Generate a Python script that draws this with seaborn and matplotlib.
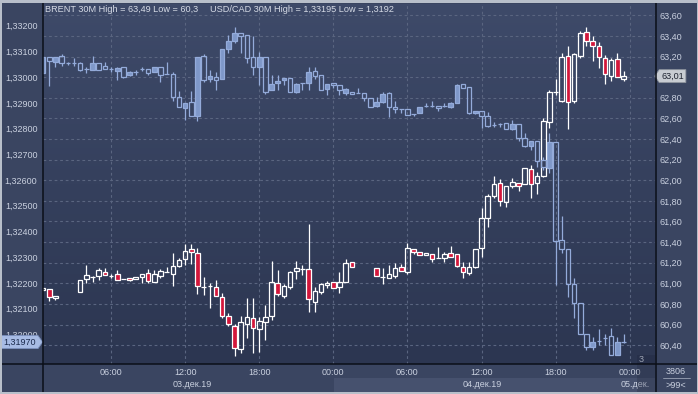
import numpy as np
import matplotlib
matplotlib.use("Agg")
import matplotlib.pyplot as plt
from matplotlib.ticker import FuncFormatter, FixedLocator
from matplotlib.patches import Rectangle
from matplotlib.lines import Line2D
from matplotlib.path import Path
from matplotlib.colors import LinearSegmentedColormap
import seaborn as sns

# ---------------- data (30-minute bars, x = half-hour index from 03.12 00:00) ----------------
usd_idx = list(range(1, 96))
usd_open = [1.33017, 1.33077, 1.33060, 1.33082, 1.33054, 1.33054, 1.33054, 1.33032, 1.33029, 1.33054,
            1.33043, 1.33030, 1.33025, 1.33038, 1.33007, 1.33021, 1.33030, 1.33030, 1.33021, 1.33038,
            1.33012, 1.33012, 1.32924, 1.32881, 1.32905, 1.32850, 1.33082, 1.32994, 1.33002, 1.32994,
            1.33111, 1.33142, 1.33173, 1.33164, 1.33077, 1.33041, 1.33077, 1.32951, 1.32976, 1.32988,
            1.32995, 1.32943, 1.32977, 1.32976, 1.33024, 1.33008, 1.32955, 1.32976, 1.32968, 1.32940,
            1.32943, 1.32937, 1.32937, 1.32918, 1.32889, 1.32905, 1.32937, 1.32883, 1.32875, 1.32875,
            1.32856, 1.32862, 1.32889, 1.32889, 1.32889, 1.32889, 1.32885, 1.32901, 1.32972, 1.32963,
            1.32862, 1.32868, 1.32850, 1.32814, 1.32817, 1.32820, 1.32800, 1.32817, 1.32762, 1.32733,
            1.32752, 1.32678, 1.32648, 1.32747, 1.32367, 1.32331, 1.32195, 1.32121, 1.32001, 1.31952,
            1.31975, 1.31987, 1.31994, 1.31920, 1.31970]
usd_high = [1.33077, 1.33077, 1.33077, 1.33090, 1.33060, 1.33073, 1.33058, 1.33041, 1.33082, 1.33054,
            1.33058, 1.33041, 1.33041, 1.33038, 1.33025, 1.33028, 1.33041, 1.33030, 1.33038, 1.33038,
            1.33060, 1.33020, 1.32947, 1.32898, 1.32947, 1.33077, 1.33090, 1.33028, 1.33020, 1.33108,
            1.33165, 1.33195, 1.33173, 1.33164, 1.33160, 1.33097, 1.33077, 1.33008, 1.33008, 1.32995,
            1.32995, 1.32976, 1.32977, 1.33041, 1.33038, 1.33008, 1.32972, 1.32976, 1.32968, 1.32957,
            1.32943, 1.32958, 1.32937, 1.32918, 1.32922, 1.32941, 1.32941, 1.32906, 1.32875, 1.32875,
            1.32856, 1.32883, 1.32901, 1.32906, 1.32889, 1.32901, 1.32902, 1.32973, 1.32972, 1.32963,
            1.32868, 1.32868, 1.32863, 1.32827, 1.32820, 1.32820, 1.32833, 1.32817, 1.32782, 1.32750,
            1.32752, 1.32690, 1.32782, 1.32747, 1.32460, 1.32331, 1.32218, 1.32121, 1.32001, 1.31988,
            1.32020, 1.32001, 1.32023, 1.31991, 1.32001]
usd_low = [1.33017, 1.32967, 1.33041, 1.33045, 1.33047, 1.33045, 1.33025, 1.33017, 1.33029, 1.33029,
           1.33030, 1.33019, 1.32989, 1.32995, 1.33004, 1.33010, 1.33025, 1.33008, 1.33020, 1.32982,
           1.33011, 1.32908, 1.32883, 1.32833, 1.32850, 1.32831, 1.32982, 1.32981, 1.32950, 1.32994,
           1.33095, 1.33132, 1.33095, 1.33054, 1.33008, 1.32969, 1.32934, 1.32951, 1.32950, 1.32969,
           1.32943, 1.32940, 1.32950, 1.32950, 1.32992, 1.32950, 1.32932, 1.32959, 1.32931, 1.32931,
           1.32933, 1.32937, 1.32908, 1.32885, 1.32885, 1.32901, 1.32846, 1.32862, 1.32862, 1.32853,
           1.32850, 1.32862, 1.32883, 1.32883, 1.32870, 1.32883, 1.32881, 1.32898, 1.32957, 1.32856,
           1.32856, 1.32803, 1.32805, 1.32805, 1.32807, 1.32797, 1.32794, 1.32753, 1.32730, 1.32717,
           1.32652, 1.32639, 1.32626, 1.32192, 1.32315, 1.32144, 1.32062, 1.32001, 1.31939, 1.31939,
           1.31958, 1.31958, 1.31920, 1.31920, 1.31967]
usd_close = [1.33077, 1.33062, 1.33077, 1.33054, 1.33054, 1.33056, 1.33029, 1.33032, 1.33054, 1.33029,
             1.33030, 1.33030, 1.33037, 1.33002, 1.33020, 1.33021, 1.33030, 1.33017, 1.33038, 1.33007,
             1.33011, 1.32924, 1.32883, 1.32898, 1.32850, 1.33077, 1.32989, 1.33004, 1.32989, 1.33108,
             1.33139, 1.33173, 1.33161, 1.33073, 1.33038, 1.33077, 1.32943, 1.32972, 1.32985, 1.32995,
             1.32943, 1.32972, 1.32977, 1.33019, 1.33006, 1.32950, 1.32972, 1.32969, 1.32951, 1.32954,
             1.32933, 1.32937, 1.32918, 1.32885, 1.32902, 1.32934, 1.32883, 1.32875, 1.32875, 1.32853,
             1.32856, 1.32883, 1.32889, 1.32889, 1.32881, 1.32889, 1.32898, 1.32969, 1.32957, 1.32859,
             1.32868, 1.32850, 1.32810, 1.32814, 1.32817, 1.32797, 1.32817, 1.32762, 1.32733, 1.32750,
             1.32675, 1.32651, 1.32747, 1.32363, 1.32331, 1.32195, 1.32121, 1.32001, 1.31950, 1.31969,
             1.31975, 1.31987, 1.31920, 1.31969, 1.31970]

brent_idx = [1, 2, 3, 7, 8, 9, 10, 11, 12, 13, 14, 15, 16, 17, 18, 19, 20, 21, 22, 23, 24, 25, 26, 27,
             28, 29, 30, 31, 32, 33, 34, 35, 36, 37, 38, 39, 40, 41, 42, 43, 44, 45, 46, 47, 48, 49,
             50, 51, 55, 56, 57, 58, 59, 60, 61, 62, 63, 64, 65, 66, 67, 68, 69, 70, 71, 72, 73, 74,
             75, 76, 77, 78, 79, 80, 81, 82, 83, 84, 85, 86, 87, 88, 89, 90, 91, 92, 93, 94, 95]
brent_open = [60.936, 60.943, 60.855, 60.919, 61.042, 61.065, 61.074, 61.113, 61.074, 61.088, 61.039,
              61.049, 61.039, 61.062, 61.104, 61.016, 61.074, 61.113, 61.088, 61.171, 61.233, 61.330,
              61.292, 60.968, 60.975, 60.968, 60.865, 60.686, 60.587, 60.361, 60.606, 60.661, 60.555,
              60.622, 60.684, 61.001, 60.880, 60.962, 61.123, 61.136, 61.136, 60.822, 60.913, 60.984,
              61.010, 60.962, 61.016, 61.204, 61.146, 61.065, 61.055, 61.071, 61.156, 61.113, 61.330,
              61.301, 61.272, 61.282, 61.249, 61.249, 61.292, 61.282, 61.156, 61.098, 61.162, 61.340,
              61.637, 61.850, 61.971, 61.792, 61.947, 61.971, 61.961, 62.109, 61.971, 62.044, 62.568,
              62.859, 62.769, 63.205, 62.772, 63.208, 63.441, 63.354, 63.302, 63.183, 63.011, 63.173,
              62.985]
brent_high = [60.955, 60.943, 60.878, 61.033, 61.178, 61.071, 61.152, 61.146, 61.088, 61.130, 61.039,
              61.049, 61.059, 61.088, 61.139, 61.130, 61.136, 61.156, 61.292, 61.249, 61.382, 61.382,
              61.346, 61.065, 61.006, 61.033, 60.904, 60.716, 60.606, 60.684, 60.855, 60.861, 60.677,
              60.790, 61.217, 61.130, 60.994, 61.123, 61.217, 61.178, 61.573, 60.968, 61.001, 61.023,
              61.010, 61.113, 61.233, 61.204, 61.146, 61.146, 61.178, 61.201, 61.185, 61.394, 61.330,
              61.301, 61.297, 61.282, 61.350, 61.307, 61.362, 61.282, 61.210, 61.210, 61.333, 61.728,
              61.867, 62.041, 62.009, 61.944, 62.019, 61.971, 62.116, 62.148, 62.083, 62.607, 62.875,
              62.982, 63.231, 63.302, 63.231, 63.448, 63.490, 63.399, 63.341, 63.215, 63.186, 63.231,
              63.063]
brent_low = [60.936, 60.832, 60.839, 60.919, 61.001, 61.016, 61.033, 61.084, 61.055, 61.030, 61.039,
             61.023, 61.039, 61.001, 61.006, 61.016, 61.049, 61.113, 60.977, 61.162, 61.178, 61.185,
             60.894, 60.887, 60.764, 60.878, 60.661, 60.587, 60.300, 60.328, 60.467, 60.322, 60.337,
             60.451, 60.645, 60.878, 60.861, 60.945, 61.042, 61.081, 60.725, 60.719, 60.894, 60.952,
             60.952, 60.910, 61.016, 61.162, 61.074, 60.991, 61.055, 61.055, 61.123, 61.088, 61.282,
             61.275, 61.272, 61.210, 61.249, 61.210, 61.259, 61.162, 61.049, 61.081, 61.146, 61.259,
             61.550, 61.831, 61.753, 61.744, 61.922, 61.899, 61.961, 61.831, 61.867, 62.035, 62.504,
             62.827, 62.762, 62.497, 62.752, 63.183, 63.302, 63.160, 63.086, 62.931, 62.963, 62.999,
             62.966]
brent_close = [60.955, 60.871, 60.878, 61.033, 61.081, 61.065, 61.130, 61.084, 61.074, 61.030, 61.039,
               61.030, 61.059, 61.088, 61.026, 61.091, 61.117, 61.113, 61.169, 61.227, 61.317, 61.301,
               60.975, 60.968, 60.975, 60.878, 60.684, 60.606, 60.370, 60.622, 60.671, 60.564, 60.635,
               60.671, 61.010, 60.894, 60.975, 61.107, 61.146, 61.136, 60.846, 60.926, 60.991, 61.006,
               60.952, 61.010, 61.195, 61.162, 61.074, 61.065, 61.088, 61.146, 61.123, 61.340, 61.304,
               61.275, 61.297, 61.233, 61.249, 61.282, 61.259, 61.171, 61.113, 61.156, 61.333, 61.631,
               61.847, 61.961, 61.802, 61.944, 61.980, 61.947, 62.116, 61.961, 62.041, 62.575, 62.853,
               62.859, 63.193, 62.762, 63.225, 63.425, 63.351, 63.305, 63.193, 63.028, 63.166, 63.004,
               63.010]

time_ticks = [12, 24, 36, 48, 60, 72, 84, 96]
time_labels = ["06:00", "12:00", "18:00", "00:00", "06:00", "12:00", "18:00", "00:00"]
date_pos = [25.2, 72.2, 96.9]
date_labels = ["03.дек.19", "04.дек.19", "05.дек."]
brent_ticks = [60.4, 60.6, 60.8, 61.0, 61.2, 61.4, 61.6, 61.8, 62.0, 62.2, 62.4, 62.6, 62.8, 63.0,
               63.2, 63.4, 63.6]
usd_ticks = [1.320, 1.321, 1.322, 1.323, 1.324, 1.325, 1.326, 1.327, 1.328, 1.329, 1.330, 1.331, 1.332]

# ---------------- style ----------------
sns.set_theme(style="dark")
plt.rcParams['font.family'] = ['Liberation Sans', 'DejaVu Sans']

PANEL = '#3a4561'
TXT = '#c9d0df'
GRID = '#5a6580'
W, H = 698, 394

fig = plt.figure(figsize=(W / 100, H / 100), dpi=100, facecolor=PANEL)


def fx(px):
    return px / W


def fy(py):
    return 1 - py / H


rect = [fx(43), fy(364), fx(655) - fx(43), fy(4) - fy(364)]

# gradient background of the plot area
bg = fig.add_axes(rect, zorder=-1)
grad = np.linspace(0, 1, 256).reshape(-1, 1)
cm = LinearSegmentedColormap.from_list('bgc', ['#3e4a69', '#2c3651'])
bg.imshow(grad, aspect='auto', cmap=cm, extent=[0, 1, 0, 1], origin='upper')
bg.set_axis_off()

ax = fig.add_axes(rect)          # BRENT (right scale)
ax.patch.set_alpha(0)
ax2 = ax.twinx()                 # USD/CAD (left scale)
ax2.patch.set_alpha(0)

ax.set_xlim(0.98, 100.1)
ax.set_ylim(60.2178, 63.7096)
ax2.set_ylim(1.318847, 1.332844)

for a in (ax, ax2):
    for s in a.spines.values():
        s.set_visible(False)

last_brent = brent_close[-1]


def brent_fmt(v, p):
    # the 63,00 label sits under the current-price tag in the reference
    if abs(v - round(last_brent, 1)) < 1e-9:
        return ""
    return f"{v:.2f}".replace('.', ',')


ax.yaxis.tick_right()
ax2.yaxis.tick_left()
ax.yaxis.set_major_locator(FixedLocator(brent_ticks))
ax.yaxis.set_major_formatter(FuncFormatter(brent_fmt))
ax2.yaxis.set_major_locator(FixedLocator(usd_ticks))
ax2.yaxis.set_major_formatter(FuncFormatter(lambda v, p: f"{v:.5f}".replace('.', ',')))
ax.set_xticks(time_ticks)
ax.set_xticklabels(time_labels)

ax.tick_params(axis='y', length=0, pad=3, labelsize=6.5, labelcolor=TXT)
ax2.tick_params(axis='y', length=0, pad=4, labelsize=6.5, labelcolor=TXT)
ax.tick_params(axis='x', length=0, pad=3, labelsize=6.5, labelcolor=TXT)
ax2.tick_params(axis='x', length=0, labelbottom=False)

ax.set_axisbelow(True)
ax.grid(True, axis='both', color=GRID, lw=0.8, ls=(0, (2.5, 2.5)))
ax2.grid(False)


def candles(axis, x, o, h, l, c, face_up, face_dn, edge_up, edge_dn, width=0.74, lw=0.9, z=3):
    x = np.asarray(x, float)
    o, h, l, c = (np.asarray(v, float) for v in (o, h, l, c))
    up = c >= o
    top = np.maximum(o, c)
    bot = np.minimum(o, c)
    edges = [edge_up if u else edge_dn for u in up]
    faces = [face_up if u else face_dn for u in up]
    axis.vlines(x, top, h, colors=edges, lw=lw, zorder=z)
    axis.vlines(x, l, bot, colors=edges, lw=lw, zorder=z)
    axis.bar(x, top - bot, width=width, bottom=bot, color=faces, edgecolor=edges,
             linewidth=lw, zorder=z + 0.1)


candles(ax, brent_idx, brent_open, brent_high, brent_low, brent_close,
        'none', '#d3173b', '#ffffff', '#ffffff')
candles(ax2, usd_idx, usd_open, usd_high, usd_low, usd_close,
        '#7f98c9', 'none', '#94abda', '#94abda')


# price tags
def tag_left(x0, y0, width, height, mutation_size):
    pad = mutation_size * 0.22
    x0, y0 = x0 - pad, y0 - pad
    x1, y1 = x0 + width + 2 * pad, y0 + height + 2 * pad
    tip = (y1 - y0) * 0.35
    return Path([(x0, y0), (x1, y0), (x1, y1), (x0, y1), (x0 - tip, (y0 + y1) / 2), (x0, y0)],
                closed=True)


def tag_right(x0, y0, width, height, mutation_size):
    pad = mutation_size * 0.22
    x0, y0 = x0 - pad, y0 - pad
    x1, y1 = x0 + width + 2 * pad, y0 + height + 2 * pad
    tip = (y1 - y0) * 0.35
    return Path([(x0, y0), (x1, y0), (x1 + tip, (y0 + y1) / 2), (x1, y1), (x0, y1), (x0, y0)],
                closed=True)


ax.annotate(f"{last_brent:.2f}".replace('.', ','), xy=(1, last_brent),
            xycoords=('axes fraction', 'data'), xytext=(4.5, 0), textcoords='offset points',
            ha='left', va='center', fontsize=6.5, color='#1e2330', annotation_clip=False,
            zorder=20, bbox=dict(boxstyle=tag_left, fc='#c8ccd2', ec='#8d939d', lw=0.6))
ax2.annotate(f"{usd_close[-1]:.5f}".replace('.', ','), xy=(0, usd_close[-1]),
             xycoords=('axes fraction', 'data'), xytext=(-5, 0), textcoords='offset points',
             ha='right', va='center', fontsize=6.5, color='#1b2a4c', annotation_clip=False,
             zorder=20, bbox=dict(boxstyle=tag_right, fc='#a7bbe4', ec='#7b90bd', lw=0.6))

# date row
for p, lab in zip(date_pos, date_labels):
    ax.text(p, -0.056, lab, transform=ax.get_xaxis_transform(), ha='center', va='center',
            fontsize=6.5, color=TXT, clip_on=False)

# title line
fig.text(fx(45), fy(9.5),
         f"BRENT 30M High = {max(brent_high):g} Low = {min(brent_low):g}".replace('.', ','),
         fontsize=6.6, color='#d6dbe6', va='center', ha='left')
fig.text(fx(210), fy(9.5),
         f"USD/CAD 30M High = {max(usd_high):g} Low = {min(usd_low):g}".replace('.', ','),
         fontsize=6.6, color='#d6dbe6', va='center', ha='left')

# bottom bands / decorations
fig.patches.append(Rectangle((fx(334), fy(392)), fx(655) - fx(334), fy(378) - fy(392),
                             transform=fig.transFigure, fc='#46516e', ec='none', zorder=-5))
fig.patches.append(Rectangle((fx(637), fy(392)), fx(655) - fx(637), fy(355) - fy(392),
                             transform=fig.transFigure, fc='#1c2236', alpha=0.25, ec='none',
                             zorder=5))
fig.text(fx(639), fy(359), "3", fontsize=6.5, color=TXT, ha='left', va='center')
fig.text(fx(676), fy(371.5), "3806", fontsize=6.5, color=TXT, ha='center', va='center')
fig.text(fx(676), fy(385), ">99<", fontsize=6.5, color=TXT, ha='center', va='center')
fig.lines.append(Line2D([fx(663), fx(690)], [fy(378), fy(378)], transform=fig.transFigure,
                        color='#9aa3b5', lw=0.6))

# black frame lines
for xs, ys in [([fx(43), fx(43)], [fy(3), fy(392)]),
               ([fx(655.5), fx(655.5)], [fy(3), fy(392)]),
               ([fx(0), fx(698)], [fy(364.3), fy(364.3)])]:
    fig.lines.append(Line2D(xs, ys, transform=fig.transFigure, color='#0b0f18', lw=1.1, zorder=6))

# light outer border
fig.patches.append(Rectangle((0, fy(3)), 1, fy(0) - fy(3), transform=fig.transFigure,
                             fc='#b8bfca', ec='none', zorder=7))
fig.patches.append(Rectangle((0, 0), 1, fy(392), transform=fig.transFigure,
                             fc='#b8bfca', ec='none', zorder=7))
fig.patches.append(Rectangle((0, 0), fx(1.5), 1, transform=fig.transFigure,
                             fc='#b8bfca', ec='none', zorder=7))
fig.patches.append(Rectangle((fx(696.5), 0), fx(1.5), 1, transform=fig.transFigure,
                             fc='#b8bfca', ec='none', zorder=7))

fig.savefig("out.png", dpi=100, facecolor=PANEL)
